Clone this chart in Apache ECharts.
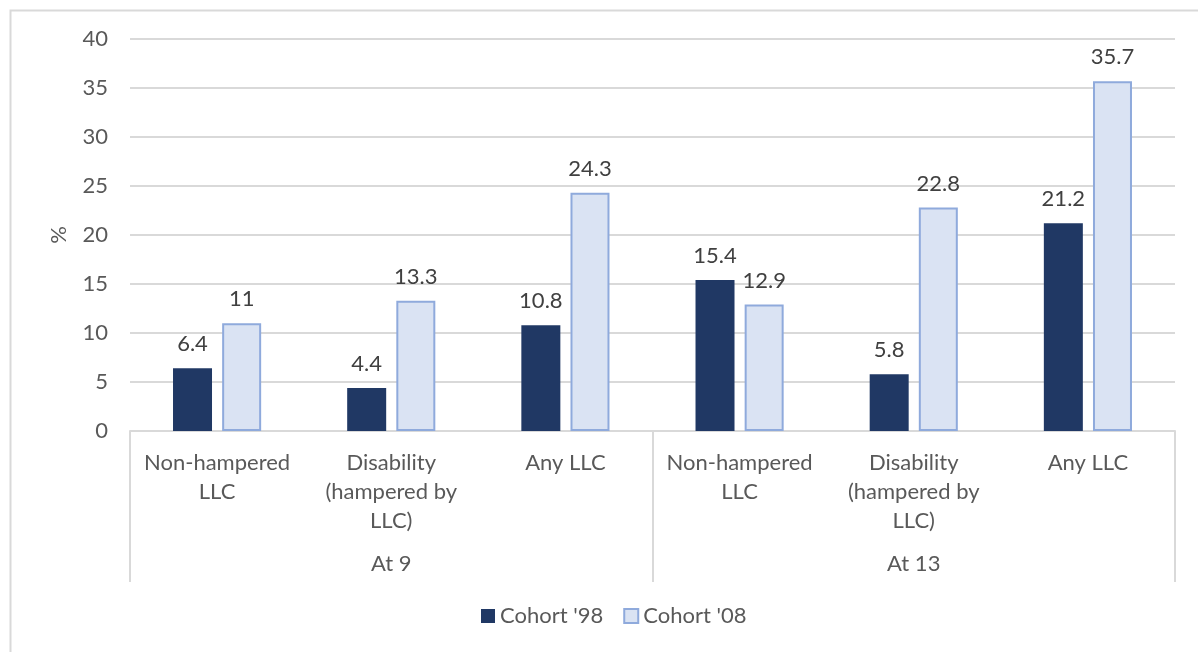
<!DOCTYPE html>
<html>
<head>
<meta charset="utf-8">
<script src="https://cdn.jsdelivr.net/npm/echarts@6/dist/echarts.min.js"></script>
<style>
  html, body { margin: 0; padding: 0; background: #fff; }
  #chart { width: 1198px; height: 652px; }
</style>
</head>
<body>
<div id="chart"></div>
<script>
var categories = ['Non-hampered\nLLC', 'Disability\n(hampered by\nLLC)', 'Any LLC', 'Non-hampered\nLLC', 'Disability\n(hampered by\nLLC)', 'Any LLC']
var groups = ['At 9', 'At 13']
var cohort98 = [6.4, 4.4, 10.8, 15.4, 5.8, 21.2]
var cohort08 = [11, 13.3, 24.3, 12.9, 22.8, 35.7]

var textColor = '#595959'
var lineColor = '#d9d9d9'
var font = 'Lato'
var fs = 22

var myChart = echarts.init(document.getElementById('chart'))
var option = {
  backgroundColor: '#fff',
  textStyle: { fontFamily: font },
  graphic: [
    {
      // outer chart frame
      type: 'rect',
      shape: { x: 10.5, y: 10.5, width: 1200, height: 660 },
      style: { fill: 'none', stroke: lineColor, lineWidth: 2 },
      silent: true
    }
  ],
  grid: { left: 130, right: 23, top: 39, bottom: 221 },
  legend: {
    bottom: 20,
    left: 476,
    itemWidth: 14,
    itemHeight: 14,
    itemGap: 20,
    textStyle: { fontSize: fs, color: textColor, fontFamily: font },
    data: [
      { name: "Cohort '98", icon: 'rect' },
      { name: "Cohort '08", icon: 'rect' }
    ]
  },
  xAxis: [
    {
      type: 'category',
      data: categories,
      axisLine: { lineStyle: { color: lineColor, width: 2 } },
      axisTick: { show: false },
      axisLabel: {
        interval: 0,
        margin: 17,
        fontSize: fs,
        lineHeight: 29,
        color: textColor,
        fontFamily: font
      }
    },
    {
      type: 'category',
      data: groups,
      position: 'bottom',
      axisLine: { show: false },
      axisTick: { show: true, length: 151, lineStyle: { color: lineColor, width: 2 } },
      axisLabel: {
        margin: 122,
        fontSize: fs,
        color: textColor,
        fontFamily: font
      }
    }
  ],
  yAxis: {
    type: 'value',
    min: 0,
    max: 40,
    interval: 5,
    name: '%',
    nameLocation: 'middle',
    nameRotate: 90,
    nameGap: 60,
    nameTextStyle: { fontSize: fs, color: textColor, fontFamily: font },
    axisLine: { show: false },
    axisTick: { show: false },
    axisLabel: { fontSize: fs, color: textColor, margin: 22, fontFamily: font },
    splitLine: { lineStyle: { color: lineColor, width: 2 } }
  },
  series: [
    {
      name: "Cohort '98",
      type: 'bar',
      data: cohort98,
      barWidth: 39,
      barGap: '26%',
      itemStyle: { color: '#203864' },
      label: { show: true, position: 'top', distance: 13, fontSize: fs, color: '#404040', fontFamily: font }
    },
    {
      name: "Cohort '08",
      type: 'bar',
      data: cohort08,
      barWidth: 39,
      itemStyle: { color: '#dae3f3', borderColor: '#8faadc', borderWidth: 2 },
      label: { show: true, position: 'top', distance: 13, fontSize: fs, color: '#404040', fontFamily: font }
    }
  ]
}
myChart.setOption(option)
</script>
</body>
</html>
